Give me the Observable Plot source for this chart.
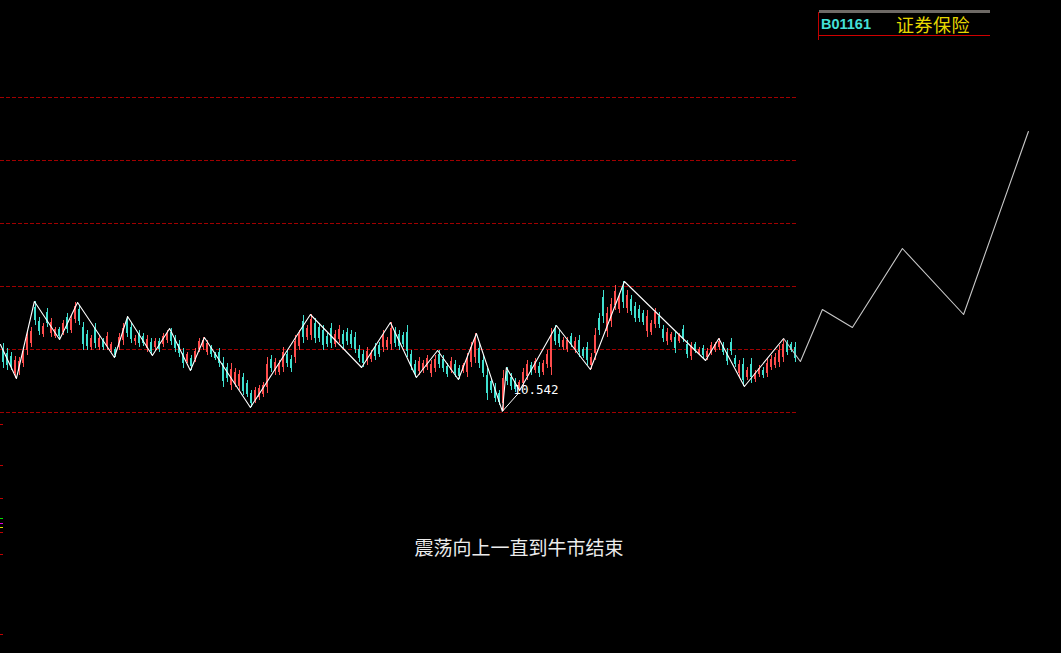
<!DOCTYPE html>
<html>
<head>
<meta charset="utf-8">
<script src="https://cdn.jsdelivr.net/npm/d3@7"></script>
<script src="https://cdn.jsdelivr.net/npm/@observablehq/plot@0.6"></script>
<style>
  html, body { margin: 0; padding: 0; background: #000; }
  #wrap { position: relative; width: 1061px; height: 653px; overflow: hidden; background: #000; }
  #wrap svg { position: absolute; left: 0; top: 0; }
  .ov { position: absolute; }
</style>
</head>
<body>
<div id="wrap"></div>
<script>
// ---- candle data (price units) ----
const high = [11.22,11.17,11.13,11.09,11.08,11.18,11.33,11.38,11.64,11.48,11.42,11.57,11.47,11.38,11.38,11.45,11.52,11.50,11.63,11.60,
11.43,11.35,11.30,11.42,11.30,11.27,11.33,11.23,11.18,11.32,11.42,11.49,11.42,11.30,11.35,11.32,11.30,11.27,11.27,11.27,
11.32,11.35,11.37,11.30,11.25,11.17,11.13,11.10,11.17,11.27,11.28,11.25,11.20,11.13,11.17,11.08,11.02,11.02,10.97,10.95,
10.92,10.85,10.75,10.78,10.80,10.83,11.08,11.10,11.07,11.05,11.18,11.15,11.10,11.30,11.35,11.50,11.40,11.51,11.47,11.42,
11.40,11.32,11.42,11.35,11.40,11.35,11.37,11.35,11.33,11.20,11.15,11.18,11.15,11.22,11.23,11.35,11.28,11.43,11.38,11.35,
11.33,11.40,11.15,11.05,11.08,11.05,11.10,11.05,11.10,11.15,11.10,11.02,11.08,11.05,11.00,11.02,11.12,11.23,11.32,11.22,
11.10,10.97,10.87,10.82,10.75,10.95,10.98,10.92,10.87,10.85,10.97,11.05,11.03,11.07,11.03,11.05,11.15,11.37,11.40,11.35,
11.28,11.28,11.32,11.28,11.30,11.18,11.23,11.12,11.37,11.52,11.75,11.58,11.67,11.80,11.72,11.84,11.75,11.70,11.63,11.60,
11.55,11.55,11.45,11.57,11.53,11.40,11.37,11.33,11.33,11.32,11.40,11.25,11.23,11.23,11.18,11.20,11.17,11.23,11.23,11.27,
11.23,11.17,11.27,11.10,11.05,11.07,10.98,11.07,10.95,11.00,10.98,11.07,11.10,11.12,11.20,11.27,11.25,11.23,11.23];
const low = [10.97,10.95,10.95,10.87,10.90,10.98,11.10,11.18,11.40,11.30,11.28,11.38,11.28,11.27,11.26,11.30,11.32,11.32,11.42,11.40,
11.15,11.15,11.15,11.17,11.15,11.15,11.15,11.13,11.08,11.15,11.20,11.28,11.22,11.20,11.18,11.19,11.13,11.10,11.15,11.13,
11.18,11.22,11.20,11.13,11.08,10.97,11.02,10.95,11.03,11.13,11.15,11.10,11.08,11.05,10.98,10.78,10.83,10.75,10.78,10.75,
10.70,10.68,10.58,10.62,10.65,10.68,10.72,10.93,10.90,10.90,10.93,10.98,10.93,11.02,11.15,11.22,11.25,11.25,11.22,11.23,
11.15,11.18,11.17,11.18,11.22,11.17,11.20,11.17,11.12,11.03,10.98,11.00,11.03,11.05,11.08,11.13,11.15,11.15,11.18,11.15,
11.18,11.08,10.95,10.88,10.90,10.92,10.95,10.88,10.93,10.97,10.93,10.88,10.92,10.88,10.86,10.92,10.88,10.98,11.02,10.97,
10.88,10.65,10.72,10.63,10.60,10.542,10.80,10.75,10.73,10.75,10.78,10.85,10.90,10.92,10.88,10.90,10.97,10.90,11.20,11.18,
11.15,11.13,11.18,11.12,11.08,11.07,11.00,10.96,11.05,11.30,11.42,11.28,11.38,11.55,11.52,11.57,11.52,11.50,11.43,11.43,
11.40,11.28,11.30,11.37,11.37,11.23,11.20,11.23,11.12,11.22,11.23,11.07,11.05,11.12,11.10,11.07,11.05,11.10,11.13,11.15,
11.10,11.00,11.10,10.98,10.88,10.79,10.85,10.82,10.83,10.88,10.87,10.88,10.95,10.97,10.98,11.03,11.10,11.13,11.03];
const open = [11.16,11.12,11.09,10.92,10.94,11.02,11.15,11.22,11.58,11.44,11.31,11.53,11.32,11.29,11.36,11.33,11.48,11.35,11.46,11.56,
11.38,11.31,11.18,11.37,11.18,11.25,11.19,11.15,11.16,11.18,11.25,11.44,11.38,11.24,11.31,11.29,11.17,11.23,11.18,11.24,
11.21,11.25,11.33,11.26,11.21,11.12,11.04,11.07,11.06,11.16,11.18,11.13,11.18,11.11,11.13,11.02,10.98,10.80,10.82,10.79,
10.88,10.82,10.72,10.65,10.68,10.71,10.78,11.06,10.94,10.93,10.98,11.11,11.06,11.08,11.19,11.44,11.28,11.30,11.42,11.38,
11.35,11.29,11.37,11.21,11.26,11.31,11.33,11.31,11.28,11.16,11.11,11.04,11.06,11.18,11.20,11.18,11.18,11.21,11.34,11.31,
11.30,11.33,11.11,11.01,10.94,10.95,10.98,10.92,10.97,11.11,11.06,10.99,10.95,11.01,10.97,10.94,10.93,11.03,11.08,11.17,
11.05,10.90,10.84,10.78,10.72,10.62,10.94,10.88,10.84,10.77,10.82,10.89,11.00,10.95,10.99,10.93,11.01,10.98,11.36,11.31,
11.18,11.16,11.29,11.16,11.25,11.16,11.18,11.00,11.12,11.47,11.68,11.34,11.44,11.60,11.56,11.78,11.57,11.66,11.59,11.56,
11.52,11.34,11.33,11.41,11.49,11.36,11.24,11.25,11.28,11.24,11.36,11.21,11.09,11.21,11.12,11.17,11.08,11.13,11.15,11.18,
11.20,11.13,11.23,11.07,10.92,11.01,10.88,11.01,10.86,10.91,10.95,10.92,10.98,11.00,11.03,11.08,11.22,11.21,11.18];
const close = [11.03,11.00,10.99,11.05,11.04,11.14,11.28,11.34,11.45,11.34,11.39,11.42,11.43,11.36,11.29,11.42,11.36,11.46,11.59,11.44,
11.21,11.19,11.27,11.22,11.27,11.18,11.29,11.21,11.10,11.28,11.37,11.32,11.26,11.27,11.22,11.22,11.26,11.14,11.24,11.16,
11.29,11.32,11.24,11.17,11.12,11.02,11.11,10.99,11.14,11.24,11.25,11.22,11.11,11.07,11.02,10.84,10.87,10.96,10.93,10.91,
10.74,10.71,10.62,10.75,10.77,10.80,11.01,10.97,11.03,11.02,11.13,11.02,10.97,11.24,11.31,11.28,11.37,11.46,11.27,11.27,
11.20,11.21,11.22,11.31,11.36,11.21,11.24,11.21,11.16,11.07,11.02,11.14,11.12,11.09,11.11,11.30,11.25,11.37,11.22,11.19,
11.21,11.14,10.99,10.92,11.04,11.02,11.07,11.01,11.06,11.01,10.97,10.91,11.04,10.92,10.89,11.00,11.07,11.18,11.26,11.02,
10.92,10.72,10.75,10.67,10.63,10.87,10.84,10.79,10.76,10.83,10.93,11.01,10.93,11.04,10.92,11.02,11.11,11.30,11.24,11.22,
11.25,11.25,11.21,11.24,11.13,11.09,11.05,11.08,11.30,11.35,11.49,11.52,11.61,11.74,11.68,11.63,11.70,11.54,11.47,11.47,
11.43,11.49,11.42,11.53,11.41,11.27,11.33,11.31,11.17,11.30,11.27,11.11,11.19,11.14,11.16,11.10,11.14,11.20,11.21,11.24,
11.13,11.04,11.14,11.01,11.01,10.85,10.95,10.88,10.92,10.97,10.90,11.02,11.06,11.08,11.15,11.21,11.13,11.15,11.07];

// ---- zigzag pivots (bar index, price) ----
const zigIdx   = [-0.7, 3.3, 7.8, 14.1, 18.6, 27.8, 31.1, 37.3, 41.6, 46.8, 50.3, 61.8, 76.8, 89.6, 96.8, 103.3, 108.6, 113.8, 118.3, 124.8, 125.8, 129.1, 138.3, 146.8, 155.3, 175.6, 178.9, 185.3, 195.1];
const zigPrice = [11.21, 10.87, 11.64, 11.26, 11.63, 11.08, 11.49, 11.10, 11.37, 10.95, 11.28, 10.58, 11.51, 10.98, 11.43, 10.88, 11.15, 10.86, 11.32, 10.542, 10.98, 10.75, 11.40, 10.96, 11.84, 11.05, 11.27, 10.79, 11.27];

// ---- projected path ----
const projIdx   = [195.1, 199.3, 204.8, 212.3, 224.8, 240.1, 256.3];
const projPrice = [11.27, 11.04, 11.56, 11.38, 12.17, 11.51, 13.34];

// ---- grid and label ----
const gridPrices = [10.535, 11.165, 11.795, 12.425, 13.055, 13.685];
const lowLabel = "10.542";
const leftRedTicks = [10.41, 10.00, 9.67, 9.33, 9.11, 8.31];
const leftColorTicks = [9.47, 9.42, 9.38];
const leftColorTickColors = ["#00e000", "#e000e0", "#e0e000"];
const caption = "震荡向上一直到牛市结束";
const code = "B01161";
const sector = "证券保险";

const UP = "#ff4d4d", DOWN = "#3fe0d0";
const candles = open.map((o, i) => ({i, o, c: close[i], h: high[i], l: low[i]}));
const ups = candles.filter(d => d.c >= d.o);
const downs = candles.filter(d => d.c < d.o);
const zig = zigIdx.map((i, k) => ({i, p: zigPrice[k]}));
const proj = projIdx.map((i, k) => ({i, p: projPrice[k]}));
const lowPt = zig.find(d => d.p === 10.542);

const xLeft = -0.675, xRight = 264.575, gridEnd = 198.8;
const crisp = {shapeRendering: "crispEdges"};

const chart = Plot.plot({
  width: 1061, height: 653,
  marginTop: 0, marginRight: 0, marginBottom: 0, marginLeft: 0,
  style: {background: "#000", overflow: "visible"},
  x: {domain: [xLeft, xRight], axis: null},
  y: {domain: [8.12, 14.65], axis: null},
  marks: [
    Plot.ruleY(gridPrices, {x1: xLeft, x2: gridEnd, stroke: "#a00000", strokeWidth: 1, strokeDasharray: "4,2", ...crisp}),
    Plot.ruleY(leftRedTicks, {x1: xLeft, x2: 0.1, stroke: "#c00000", strokeWidth: 1.5, ...crisp}),
    Plot.ruleY(leftColorTicks, {x1: xLeft, x2: 0.1, stroke: (d, k) => leftColorTickColors[k], strokeWidth: 1.5, ...crisp}),
    Plot.ruleX(ups, {x: "i", y1: "l", y2: "h", stroke: UP, strokeWidth: 1, ...crisp}),
    Plot.ruleX(downs, {x: "i", y1: "l", y2: "h", stroke: DOWN, strokeWidth: 1, ...crisp}),
    Plot.rect(ups, {x1: d => d.i - 0.26, x2: d => d.i + 0.26, y1: "o", y2: "c", fill: UP, ...crisp}),
    Plot.rect(downs, {x1: d => d.i - 0.26, x2: d => d.i + 0.26, y1: "o", y2: "c", fill: DOWN, ...crisp}),
    Plot.line(zig, {x: "i", y: "p", stroke: "#ffffff", strokeWidth: 1.1}),
    Plot.line(proj, {x: "i", y: "p", stroke: "#c8c8c8", strokeWidth: 1.1}),
    Plot.link([lowPt], {x1: "i", y1: "p", x2: d => d.i + 4, y2: d => d.p + 0.18, stroke: "#ffffff", strokeWidth: 1}),
    Plot.text([lowPt], {x: "i", y: "p", text: () => lowLabel, dx: 11, dy: -21, textAnchor: "start",
      fill: "#ffffff", fontFamily: "DejaVu Sans Mono", fontSize: 12.5})
  ]
});
const wrap = document.getElementById("wrap");
wrap.appendChild(chart);

function addDiv(css, text) {
  const d = document.createElement("div");
  d.className = "ov";
  d.style.cssText = css;
  if (text) d.textContent = text;
  wrap.appendChild(d);
  return d;
}
// header box (top right)
addDiv("left:819px;top:10px;width:171px;height:3px;background:#6e6a66;");
addDiv("left:818px;top:12px;width:1px;height:28px;background:#c00000;");
addDiv("left:819px;top:35px;width:171px;height:1px;background:#d00000;");
addDiv("left:821px;top:14px;font:bold 14.5px 'Liberation Sans', Arial, sans-serif;color:#44e0d8;line-height:20px;", code);
addDiv("left:896px;top:12px;font:18px 'Noto Sans CJK SC', sans-serif;color:#e6d800;line-height:24px;letter-spacing:0.5px;", sector);
// caption
addDiv("left:319px;top:534px;width:400px;text-align:center;font:19px 'Noto Sans CJK SC', sans-serif;color:#ececec;line-height:26px;", caption);
</script>
</body>
</html>
